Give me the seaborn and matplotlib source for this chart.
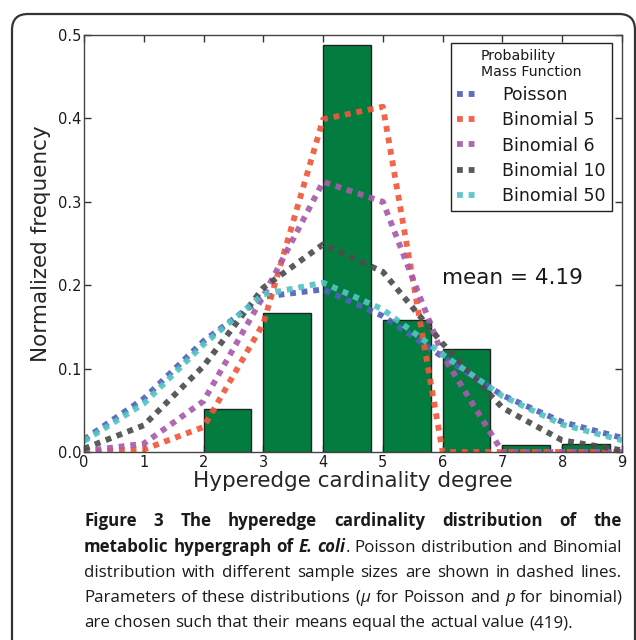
import numpy as np
import pandas as pd
import matplotlib
matplotlib.use("Agg")
import matplotlib.pyplot as plt
import matplotlib.transforms as mtransforms
from matplotlib.patches import FancyBboxPatch
import seaborn as sns

# ---------------- data ----------------
degree = [2, 3, 4, 5, 6, 7, 8]
observed = [0.051, 0.167, 0.488, 0.158, 0.124, 0.008, 0.009]

k = [0, 1, 2, 3, 4, 5, 6, 7, 8, 9]
poisson = [0.015, 0.064, 0.133, 0.186, 0.195, 0.163, 0.114, 0.068, 0.036, 0.017]
binom5 = [0.000, 0.003, 0.030, 0.154, 0.399, 0.414, 0.000, 0.000, 0.000, 0.000]
binom6 = [0.001, 0.010, 0.061, 0.187, 0.324, 0.300, 0.116, 0.000, 0.000, 0.000]
binom10 = [0.004, 0.032, 0.103, 0.197, 0.249, 0.216, 0.130, 0.053, 0.014, 0.002]
binom50 = [0.013, 0.058, 0.129, 0.189, 0.203, 0.171, 0.117, 0.067, 0.033, 0.014]

series_labels = ["Poisson", "Binomial 5", "Binomial 6", "Binomial 10", "Binomial 50"]
series_colors = ["#5062B8", "#F1583A", "#A95BAA", "#4D4D4D", "#52C4C6"]
xticks = list(range(10))
yticks = [0.0, 0.1, 0.2, 0.3, 0.4, 0.5]
ytick_labels = ["0.0", "0.1", "0.2", "0.3", "0.4", "0.5"]

curves = pd.DataFrame({"k": k, "Poisson": poisson, "Binomial 5": binom5,
                       "Binomial 6": binom6, "Binomial 10": binom10,
                       "Binomial 50": binom50})

# ---------------- style ----------------
sns.set_theme(style="ticks")
plt.rcParams["font.family"] = ["DejaVu Sans"]
plt.rcParams["axes.edgecolor"] = "#333333"
plt.rcParams["text.color"] = "#1a1a1a"

fig = plt.figure(figsize=(6.36, 6.40), dpi=100)
fig.patch.set_facecolor("white")
W, H = 636, 640
ax = fig.add_axes([84 / W, 1 - 452 / H, 538 / W, 417 / H])

# bars (edge aligned, width 0.8)
sns.barplot(x=degree, y=observed, native_scale=True, width=0.8, color="#037D3F",
            saturation=1, edgecolor="#222222", linewidth=1.0, errorbar=None, ax=ax)
shift = mtransforms.Affine2D().translate(0.4, 0) + ax.transData
for p in ax.patches:
    p.set_transform(shift)

# PMF curves
for lab, col in zip(series_labels, series_colors):
    sns.lineplot(data=curves, x="k", y=lab, color=col, linewidth=4.2,
                 linestyle=(0, (1, 1)), alpha=0.92, ax=ax, label=lab)

ax.set_xlim(0, 9)
ax.set_ylim(0, 0.5)
ax.set_xticks(xticks)
ax.set_xticklabels([str(t) for t in xticks])
ax.set_yticks(yticks)
ax.set_yticklabels(ytick_labels)
ax.tick_params(direction="in", top=True, right=True, length=5, width=1,
               labelsize=10.5, pad=2, colors="#333333", labelcolor="#1a1a1a")
for s in ax.spines.values():
    s.set_linewidth(1.0)
    s.set_color("#444444")
ax.set_xlabel("Hyperedge cardinality degree", fontsize=15.5, labelpad=1)
ax.set_ylabel("Normalized frequency", fontsize=15.5, labelpad=5)

ax.text(7.16, 0.209, "mean = 4.19", ha="center", va="center", fontsize=15.5)

handles, labels = ax.get_legend_handles_labels()
leg = ax.legend(handles, labels, title="Probability\nMass Function",
                loc="upper right", bbox_to_anchor=(0.981, 0.981), borderaxespad=0,
                fancybox=False, frameon=True, edgecolor="#222222", framealpha=1,
                fontsize=12.5, title_fontsize=10.2, handlelength=1.3,
                handletextpad=1.3, labelspacing=0.42, borderpad=0.35)
leg.get_frame().set_linewidth(1.0)
leg.get_title().set_multialignment("left")
leg.get_title().set_linespacing(1.15)

# ---------------- outer rounded frame ----------------
frame = FancyBboxPatch((12 / W, -0.1), (635 - 12) / W, 0.1 + 1 - 14 / H,
                       boxstyle="round,pad=0,rounding_size=0.025",
                       fill=False, ec="#333333", lw=1.6, transform=fig.transFigure)
fig.add_artist(frame)

# ---------------- caption (justified) ----------------
cap_family = ["Open Sans", "DejaVu Sans"]
cap_size = 12.2
renderer = fig.canvas.get_renderer()
styles = {"b": dict(weight="bold", style="normal"),
          "bi": dict(weight="bold", style="italic"),
          "r": dict(weight="normal", style="normal"),
          "i": dict(weight="normal", style="italic")}


def words(s, st):
    return [(w, st, False) for w in s.split()]


caption_lines = [
    words("Figure 3 The hyperedge cardinality distribution of the", "b"),
    words("metabolic hypergraph of", "b") + words("E. coli", "bi") + [(".", "r", True)]
    + words("Poisson distribution and Binomial", "r"),
    words("distribution with different sample sizes are shown in dashed lines.", "r"),
    words("Parameters of these distributions (", "r") + [("\u03bc", "i", True)]
    + words("for Poisson and", "r") + [("p", "i", False)] + words("for binomial)", "r"),
    words("are chosen such that their means equal the actual value (419).", "r"),
]
baselines = [526, 552, 577, 602, 627]
left_px, right_px = 84, 622

probe = fig.text(0, 0, "a a", fontsize=cap_size, family=cap_family)
probe2 = fig.text(0, 0, "aa", fontsize=cap_size, family=cap_family)
space_w = probe.get_window_extent(renderer).width - probe2.get_window_extent(renderer).width
probe.remove()
probe2.remove()

for li, (toks, yb) in enumerate(zip(caption_lines, baselines)):
    arts = []
    for text, st, glue in toks:
        t = fig.text(0, 1 - yb / H, text, fontsize=cap_size, family=cap_family,
                     va="baseline", ha="left", color="#1a1a1a", **styles[st])
        arts.append((t, t.get_window_extent(renderer).width, glue))
    total = sum(w for _, w, _ in arts)
    ngaps = sum(1 for i, (_, _, g) in enumerate(arts) if i > 0 and not g)
    justify = li < len(caption_lines) - 1
    gap = (right_px - left_px - total) / ngaps if (justify and ngaps) else space_w
    x = left_px
    for i, (t, w, g) in enumerate(arts):
        if i > 0 and not g:
            x += gap
        t.set_x(x / W)
        x += w

fig.savefig("out.png", dpi=100, facecolor="white")
